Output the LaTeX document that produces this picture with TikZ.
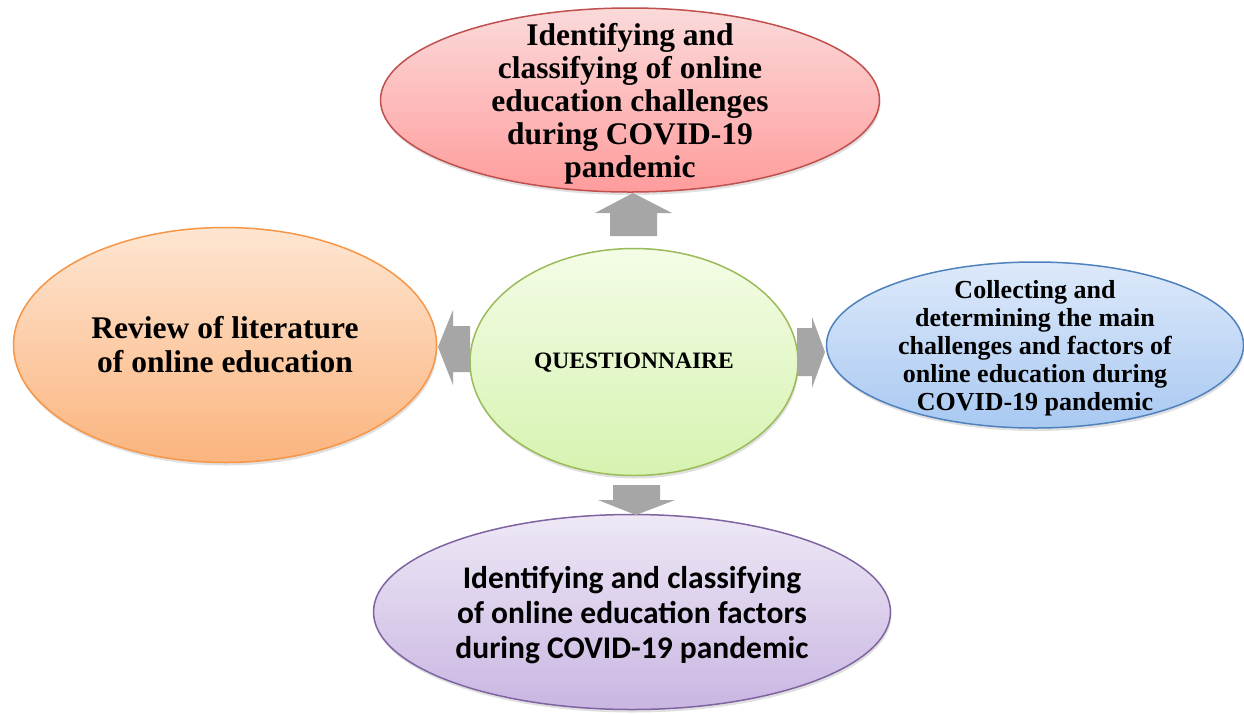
\documentclass[tikz,border=0pt]{standalone}
\usepackage{fontspec}
\setmainfont{Liberation Serif}
\newfontfamily\calfont{Carlito}
\usetikzlibrary{shapes.geometric,shadows}
\definecolor{redb}{HTML}{C0504D}
\definecolor{orab}{HTML}{F79646}
\definecolor{greb}{HTML}{9BBB59}
\definecolor{blub}{HTML}{4F81BD}
\definecolor{purb}{HTML}{8064A2}
\definecolor{arrg}{HTML}{A6A6A6}
\definecolor{redt}{HTML}{FBDADA}
\definecolor{redbo}{HTML}{FF9C9C}
\definecolor{orat}{HTML}{FEE6D2}
\definecolor{orabo}{HTML}{FBB47E}
\definecolor{gret}{HTML}{F4FCE6}
\definecolor{grebo}{HTML}{D6F3B0}
\definecolor{blut}{HTML}{DDE9FA}
\definecolor{blubo}{HTML}{A9C9F2}
\definecolor{purt}{HTML}{EEE8F6}
\definecolor{purbo}{HTML}{C9B6E2}
\tikzset{
  oval/.style={ellipse, inner sep=0pt, outer sep=0pt, line width=1.5pt,
    drop shadow={shadow xshift=1pt, shadow yshift=-3pt, fill=black, opacity=0.12}},
  ovaltext/.style={align=center, inner sep=0pt},
  blockarrow/.style={fill=arrg, draw=none}
}
\begin{document}
\begin{tikzpicture}[x=1pt,y=-1pt]
\useasboundingbox[fill=white] (0,0) rectangle (1244,713);
% ellipses
\node[oval, draw=redb, top color=redt, bottom color=redbo, minimum width=499pt, minimum height=184pt] (top) at (630,100) {};
\node[oval, draw=orab, top color=orat, bottom color=orabo, minimum width=423pt, minimum height=235pt] (left) at (225,345) {};
\node[oval, draw=greb, top color=gret, bottom color=grebo, minimum width=328pt, minimum height=227pt] (mid) at (634,362) {};
\node[oval, draw=blub, top color=blut, bottom color=blubo, minimum width=417pt, minimum height=166pt] (right) at (1035,345) {};
\node[oval, draw=purb, top color=purt, bottom color=purbo, minimum width=517pt, minimum height=195pt] (bot) at (632,612) {};
% texts
\node[ovaltext, font={\fontsize{31.5}{33}\selectfont\bfseries}] (toptext) at ([yshift=-4pt]top.center)
  {Identifying and\\ classifying of online\\ education challenges\\ during COVID-19\\ pandemic};
\node[ovaltext, font={\fontsize{31.5}{34}\selectfont\bfseries}] (lefttext) at (left.center)
  {Review of literature\\ of online education};
\node[ovaltext, font={\fontsize{23.5}{26}\selectfont\bfseries}] (midtext) at ([yshift=-1pt]mid.center)
  {QUESTIONNAIRE};
\node[ovaltext, font={\fontsize{26}{28}\selectfont\bfseries}] (righttext) at ([yshift=-3pt]right.center)
  {Collecting and\\ determining the main\\ challenges and factors of\\ online education during\\ COVID-19 pandemic};
\node[ovaltext, font={\calfont\fontsize{31.5}{35}\selectfont\bfseries}] (bottext) at ([yshift=-3pt]bot.center)
  {Identifying and classifying\\ of online education factors\\ during COVID-19 pandemic};
% block arrows
\fill[blockarrow] (610,236) -- (610,213) -- (595,213) -- (633,193) -- (672,213) -- (657,213) -- (657,236) -- cycle;
\fill[blockarrow] (470,326) -- (453,326) -- (453,310) -- (438,347) -- (453,385) -- (453,372) -- (470,372) -- cycle;
\fill[blockarrow] (797,328) -- (812,328) -- (812,317) -- (825,352) -- (812,388) -- (812,376) -- (797,376) -- cycle;
\fill[blockarrow] (613,485) -- (660,485) -- (660,500) -- (675,500) -- (636,515) -- (598,500) -- (613,500) -- cycle;
\end{tikzpicture}
\end{document}
